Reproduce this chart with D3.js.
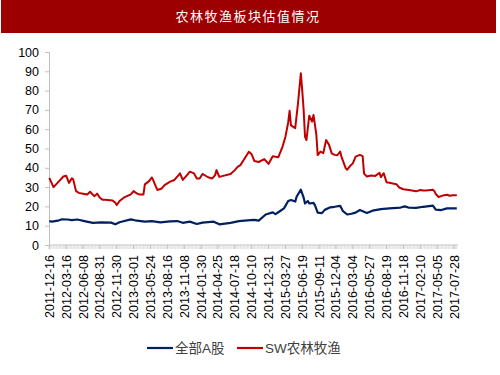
<!DOCTYPE html>
<html>
<head>
<meta charset="utf-8">
<script src="https://cdn.jsdelivr.net/npm/d3@7"></script>
<style>
  body { margin: 0; background: #fff; }
  svg { display: block; font-family: "Liberation Sans", Arial, sans-serif; }
</style>
</head>
<body>
<div id="chart"></div>
<script>
// tick labels, one every 12 trading weeks
const weekTicks = [
    "2011-12-16", "2012-03-16", "2012-06-08", "2012-08-31", "2012-11-30",
    "2013-03-01", "2013-05-24", "2013-08-16", "2013-11-08", "2014-01-30",
    "2014-04-25", "2014-07-18", "2014-10-10", "2014-12-31", "2015-03-27",
    "2015-06-19", "2015-09-11", "2015-12-04", "2016-03-04", "2016-05-27",
    "2016-08-19", "2016-11-18", "2017-02-10", "2017-05-05", "2017-07-28"
];

const yTicks = [0, 10, 20, 30, 40, 50, 60, 70, 80, 90, 100];
const seriesNames = ["全部A股", "SW农林牧渔"];

// [week index, PE]
const allAShare = [
    [0, 12.4], [2, 12.1], [7, 12.8], [9, 13.3], [13, 13.2], [16, 12.9], [20, 13.2],
    [25, 12.4], [31, 11.5], [37, 11.7], [44, 11.6], [47, 10.7], [50, 11.8], [58, 13.3],
    [61, 12.8], [68, 12.1], [73, 12.4], [79, 11.7], [86, 12.2], [91, 12.4], [95, 11.5],
    [100, 12.1], [105, 10.9], [109, 11.6], [117, 12.1], [121, 10.7], [129, 11.5], [135, 12.4],
    [143, 12.9], [146, 13], [149, 12.6], [154, 15.8], [159, 16.9], [161, 16], [164, 17.5],
    [167, 19], [170, 22.8], [172, 23.3], [175, 22.5], [176, 25], [179, 28.7], [181, 24.5],
    [182, 21.5], [184, 22.8], [185, 21.5], [188, 21.8], [189, 20.7], [191, 16.8], [194, 16.5],
    [196, 18.2], [200, 19.5], [203, 19.8], [207, 20.3], [209, 17.5], [212, 15.8], [215, 16.2],
    [218, 16.8], [221, 18.1], [226, 16.6], [230, 17.8], [236, 18.6], [242, 19], [250, 19.4],
    [253, 20], [256, 19.3], [261, 19.2], [266, 19.8], [273, 20.4], [275, 18.3], [279, 18.1],
    [283, 19], [290, 19]
];

const swAgri = [
    [0, 34.8], [3, 30], [7, 33.1], [10, 35.5], [12, 35.9], [14, 32.2], [16, 34.5], [17, 34],
    [19, 28], [21, 27], [24, 26.6], [27, 26.2], [29, 27.6], [32, 25.3], [34, 26.6], [36, 24.5],
    [38, 23.4], [40, 23.5], [45, 23.1], [47, 21.9], [48, 20.7], [50, 22.8], [53, 24.5],
    [58, 26.2], [60, 27.9], [62, 26.8], [64, 26.2], [67, 26.2], [68, 31.4], [71, 33.1],
    [73, 35], [74, 33.5], [76, 30], [77, 28.5], [80, 29.3], [82, 31], [86, 32.8], [89, 33.7],
    [92, 36.2], [93, 37.1], [95, 33.7], [98, 36.2], [100, 38], [103, 37.1], [105, 34.5],
    [107, 34.5], [109, 36.8], [113, 35.1], [116, 34.5], [118, 36.2], [119, 38.8], [121, 35.3],
    [123, 35.7], [129, 36.8], [132, 38.8], [134, 40.5], [136, 41.4], [140, 46], [142, 48.3],
    [144, 47], [146, 43.5], [149, 43], [153, 44.5], [156, 42], [159, 46], [163, 45.5],
    [166, 51], [168, 56], [170, 63.5], [171, 69.5], [172, 62], [175, 60.5], [177, 73.5],
    [179, 89], [180, 80], [181, 70], [182, 56], [183, 54.4], [185, 67], [187, 64], [188, 67.4],
    [190, 57.5], [191, 46.6], [193, 48.4], [195, 47.6], [197, 54.4], [199, 52], [201, 47.5],
    [203, 46.7], [205, 46.5], [207, 48.4], [208, 45.5], [211, 39.7], [212, 39], [214, 40.9],
    [216, 42.3], [218, 45.8], [221, 46.7], [223, 46], [224, 37], [226, 35.5], [229, 36],
    [232, 35.8], [235, 37.4], [236, 35.2], [238, 37.2], [240, 32.5], [242, 32.2], [247, 31.5],
    [249, 29.8], [252, 28.9], [256, 28.5], [261, 27.8], [264, 28.5], [266, 28.2], [268, 28.3],
    [273, 28.6], [274, 28], [275, 26.4], [277, 24.9], [280, 25.6], [283, 26], [285, 25.5],
    [287, 25.8], [290, 25.8]
];

const W = 500, H = 375;
const weeksPerTick = 12;
const lastWeek = 290;

const svg = d3.select("#chart").append("svg")
    .attr("width", W)
    .attr("height", H);

// title bar
svg.append("rect")
    .attr("x", 1).attr("y", 0)
    .attr("width", 495).attr("height", 33)
    .attr("fill", "#9c0000");
svg.append("text")
    .attr("x", 248).attr("y", 21)
    .attr("text-anchor", "middle")
    .attr("fill", "#fff")
    .style("font-family", "'Noto Sans CJK SC', sans-serif")
    .style("font-size", "13px")
    .style("letter-spacing", "1.5px")
    .text("农林牧渔板块估值情况");

const x = d3.scaleLinear()
    .domain([0, (weekTicks.length - 1) * weeksPerTick])
    .range([49.3, 454]);

const y = d3.scaleLinear()
    .domain([0, 100])
    .range([245, 52]);

// y axis
const yAxis = svg.append("g")
    .attr("transform", "translate(49,0)")
    .call(d3.axisLeft(y).tickValues(yTicks).tickSize(4).tickPadding(6));
yAxis.select(".domain").attr("stroke", "#bfbfbf");
yAxis.selectAll(".tick line").attr("stroke", "#bfbfbf");
yAxis.selectAll("text")
    .attr("fill", "#000")
    .style("font-size", "12.5px");

// x axis: a tick for every week, labels every 12 weeks
const xAxisG = svg.append("g").attr("transform", "translate(0,245)");
xAxisG.append("line")
    .attr("x1", 49).attr("x2", x(lastWeek) + 1)
    .attr("stroke", "#bfbfbf");
xAxisG.selectAll(".minor")
    .data(d3.range(0, lastWeek + 1))
    .join("line")
    .attr("class", "minor")
    .attr("x1", d => x(d)).attr("x2", d => x(d))
    .attr("y1", 0).attr("y2", 4)
    .attr("stroke", "#d9d9d9")
    .attr("stroke-width", 0.8);
xAxisG.selectAll(".major")
    .data(weekTicks)
    .join("line")
    .attr("class", "major")
    .attr("x1", (d, i) => x(i * weeksPerTick)).attr("x2", (d, i) => x(i * weeksPerTick))
    .attr("y1", 0).attr("y2", 4)
    .attr("stroke", "#bfbfbf");
xAxisG.selectAll(".lbl")
    .data(weekTicks)
    .join("text")
    .attr("class", "lbl")
    .attr("transform", (d, i) => `translate(${x(i * weeksPerTick) + 4.5},10) rotate(-90)`)
    .attr("text-anchor", "end")
    .attr("fill", "#000")
    .style("font-size", "12.5px")
    .text(d => d);

// lines
const line = d3.line()
    .x(d => x(d[0]))
    .y(d => y(d[1]));

svg.append("path")
    .datum(allAShare)
    .attr("fill", "none")
    .attr("stroke", "#002060")
    .attr("stroke-width", 2.2)
    .attr("stroke-linejoin", "round")
    .attr("d", line);

svg.append("path")
    .datum(swAgri)
    .attr("fill", "none")
    .attr("stroke", "#c00000")
    .attr("stroke-width", 2)
    .attr("stroke-linejoin", "round")
    .attr("d", line);

// legend
const legendColors = ["#002060", "#c00000"];
const legendX = [147, 237];
const legend = svg.selectAll(".legend")
    .data(seriesNames)
    .join("g")
    .attr("class", "legend")
    .attr("transform", (d, i) => `translate(${legendX[i]},348)`);
legend.append("line")
    .attr("x1", 0).attr("x2", 26)
    .attr("stroke", (d, i) => legendColors[i])
    .attr("stroke-width", 2.2);
legend.append("text")
    .attr("x", 28).attr("y", 5)
    .attr("fill", "#404040")
    .style("font-family", "'Liberation Sans', 'Noto Sans CJK SC', sans-serif")
    .style("font-size", "13.5px")
    .text(d => d);
</script>
</body>
</html>
